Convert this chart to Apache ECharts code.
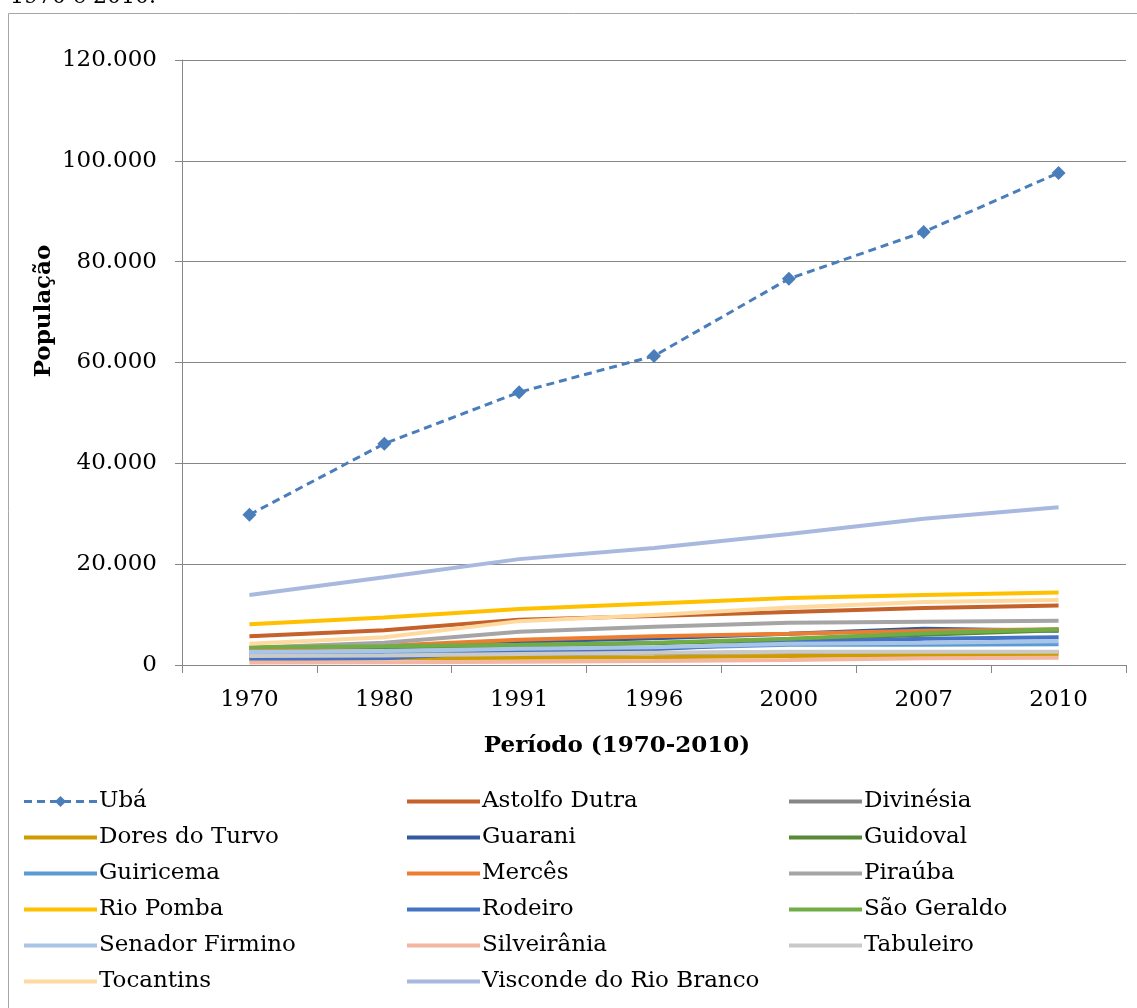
<!DOCTYPE html>
<html>
<head>
<meta charset="utf-8">
<script src="https://cdn.jsdelivr.net/npm/echarts@6/dist/echarts.min.js"></script>
<style>
html,body{margin:0;padding:0;background:#fff;}
#c{width:1137px;height:1008px;}
</style>
</head>
<body>
<div id="c"></div>
<script>
const years = ['1970','1980','1991','1996','2000','2007','2010'];
const yTicks = [0, 20000, 40000, 60000, 80000, 100000, 120000];

const uba            = [29800, 43900, 54100, 61300, 76600, 85900, 97600];
const astolfoDutra   = [5700, 6900, 9000, 9700, 10500, 11300, 11800];
const divinesia      = [1750, 1850, 2100, 2350, 2550, 2600, 2600];
const doresDoTurvo   = [1300, 1350, 1450, 1550, 1800, 2000, 2100];
const guarani        = [3300, 3700, 4600, 5300, 6200, 7200, 6800];
const guidoval       = [3300, 3500, 3800, 4300, 5000, 6000, 6900];
const guiricema      = [2300, 2500, 2900, 3300, 4000, 4000, 4100];
const merces         = [3100, 3800, 5000, 5700, 6200, 6800, 7100];
const pirauba        = [3400, 4400, 6600, 7600, 8400, 8600, 8800];
const rioPomba       = [8100, 9400, 11100, 12200, 13300, 13900, 14400];
const rodeiro        = [1100, 1330, 2780, 3100, 4500, 5200, 5500];
const saoGeraldo     = [3500, 3700, 4000, 4400, 5200, 6300, 7100];
const senadorFirmino = [2600, 2800, 3200, 3500, 4200, 4400, 4700];
const silveirania    = [500, 550, 650, 800, 1000, 1350, 1450];
const tabuleiro      = [1800, 1900, 2200, 2450, 2650, 2650, 2650];
const tocantins      = [4200, 5500, 8700, 9900, 11400, 12500, 12900];
const visconde       = [13900, 17400, 21000, 23200, 26000, 29000, 31300];

const names = ['Ubá','Astolfo Dutra','Divinésia','Dores do Turvo','Guarani','Guidoval','Guiricema','Mercês','Piraúba','Rio Pomba','Rodeiro','São Geraldo','Senador Firmino','Silveirânia','Tabuleiro','Tocantins','Visconde do Rio Branco'];
const datasets = [uba, astolfoDutra, divinesia, doresDoTurvo, guarani, guidoval, guiricema, merces, pirauba, rioPomba, rodeiro, saoGeraldo, senadorFirmino, silveirania, tabuleiro, tocantins, visconde];
const colors = ['#4A7EBB','#C5612B','#878787','#CF9C00','#335A9E','#578A37','#5B9BD5','#ED7D31','#A5A5A5','#FFC000','#4472C4','#70AD47','#A8C4E6','#F3B6A0','#C9C9C9','#FFDAA0','#A8B8DE'];

const FONT = 'DejaVu Serif';
const FS = 23;
const fmt = v => String(v).replace(/\B(?=(\d{3})+(?!\d))/g, '.');

const series = names.map((n, i) => {
  const isUba = i === 0;
  return {
    name: n,
    type: 'line',
    data: datasets[i],
    color: colors[i],
    symbol: isUba ? 'diamond' : 'none',
    symbolSize: isUba ? 14 : 0,
    showSymbol: isUba,
    lineStyle: { width: isUba ? 3 : 4, type: isUba ? [8, 5] : 'solid', color: colors[i] },
    itemStyle: { color: colors[i] },
    emphasis: { disabled: true },
    animation: false
  };
});

function legendItem(n) {
  const i = names.indexOf(n);
  if (i === 0) {
    return { name: n, itemStyle: { color: colors[0] }, lineStyle: { width: 3, type: [8, 5], color: colors[0] } };
  }
  return { name: n, itemStyle: { color: 'rgba(0,0,0,0)', borderWidth: 0, opacity: 0 }, lineStyle: { width: 4, type: 'solid', color: colors[i] } };
}

const legendBase = {
  orient: 'vertical',
  top: 790,
  padding: 0,
  itemWidth: 73,
  itemHeight: 14,
  itemGap: 13,
  textStyle: { fontFamily: FONT, fontSize: FS, color: '#000', lineHeight: 23, padding: [0, 0, 0, -3] },
  selectedMode: false
};
const col1 = ['Ubá','Dores do Turvo','Guiricema','Rio Pomba','Senador Firmino','Tocantins'];
const col2 = ['Astolfo Dutra','Guarani','Mercês','Rodeiro','Silveirânia','Visconde do Rio Branco'];
const col3 = ['Divinésia','Guidoval','Piraúba','São Geraldo','Tabuleiro'];

const chart = echarts.init(document.getElementById('c'));
chart.setOption({
  backgroundColor: '#fff',
  animation: false,
  textStyle: { fontFamily: FONT },
  grid: { left: 182, right: 11, top: 60, bottom: 343 },
  legend: [
    Object.assign({}, legendBase, { left: 22, data: col1.map(legendItem) }),
    Object.assign({}, legendBase, { left: 405, data: col2.map(legendItem) }),
    Object.assign({}, legendBase, { left: 787, data: col3.map(legendItem) })
  ],
  xAxis: {
    type: 'category',
    data: years,
    boundaryGap: true,
    axisLine: { lineStyle: { color: '#868686', width: 1 } },
    axisTick: { show: true, length: 8, lineStyle: { color: '#868686' } },
    axisLabel: { color: '#000', fontFamily: FONT, fontSize: FS, margin: 24 }
  },
  yAxis: {
    type: 'value',
    min: yTicks[0],
    max: yTicks[yTicks.length - 1],
    interval: yTicks[1] - yTicks[0],
    axisLine: { show: true, lineStyle: { color: '#868686', width: 1 } },
    axisTick: { show: true, length: 7, lineStyle: { color: '#868686' } },
    splitLine: { show: true, lineStyle: { color: '#868686', width: 1 } },
    axisLabel: { color: '#000', fontFamily: FONT, fontSize: FS, margin: 25, formatter: fmt }
  },
  graphic: [
    { type: 'rect', shape: { x: 8.5, y: 13.5, width: 1200, height: 1100 }, style: { fill: 'none', stroke: '#A6A6A6', lineWidth: 1 }, silent: true },
    { type: 'text', x: 10, y: 8, style: { text: '1970 e 2010.', font: '22px "DejaVu Serif"', fill: '#000', verticalAlign: 'bottom' }, silent: true },
    { type: 'text', x: 44, y: 311, rotation: Math.PI / 2, style: { text: 'População', font: 'bold 23px "DejaVu Serif"', fill: '#000', align: 'center', verticalAlign: 'middle' }, silent: true },
    { type: 'text', x: 617, y: 746, style: { text: 'Período (1970-2010)', font: 'bold 23px "DejaVu Serif"', fill: '#000', align: 'center', verticalAlign: 'middle' }, silent: true }
  ],
  series: series
});
</script>
</body>
</html>
